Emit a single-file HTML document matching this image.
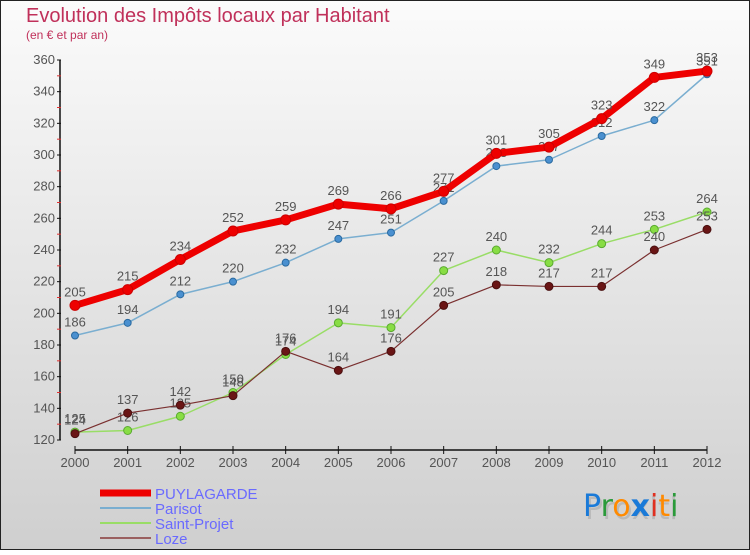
<!DOCTYPE html>
<html><head><meta charset="utf-8"><style>
html,body{margin:0;padding:0}
body{width:750px;height:550px;overflow:hidden;font-family:"Liberation Sans",sans-serif}
</style></head><body>
<svg id="chart" width="750" height="550" xmlns="http://www.w3.org/2000/svg">
<defs><linearGradient id="bg" x1="0" y1="0" x2="0" y2="1"><stop offset="0" stop-color="#fbfbfb"/><stop offset="1" stop-color="#cfcfcf"/></linearGradient></defs>
<rect x="0.5" y="0.5" width="749" height="549" fill="url(#bg)" stroke="#222"/>
<text x="26" y="22" font-size="20" fill="#c0305a" font-weight="300">Evolution des Impôts locaux par Habitant</text>
<text x="26" y="39" font-size="12" fill="#c0305a">(en € et par an)</text>
<g id="axes"></g><g id="series"></g>
<g>
<line x1="100" y1="493" x2="151" y2="493" stroke="#ee0000" stroke-width="7"/>
<text x="155" y="499" font-size="15" fill="#6a6aff">PUYLAGARDE</text>
<line x1="100" y1="508" x2="151" y2="508" stroke="#7aaed0" stroke-width="2"/>
<text x="155" y="514" font-size="15" fill="#6a6aff">Parisot</text>
<line x1="100" y1="523" x2="151" y2="523" stroke="#99dd66" stroke-width="2"/>
<text x="155" y="529" font-size="15" fill="#6a6aff">Saint-Projet</text>
<line x1="100" y1="538" x2="151" y2="538" stroke="#9a6060" stroke-width="2"/>
<text x="155" y="544" font-size="15" fill="#6a6aff">Loze</text>
</g>
<g font-size="30" font-family="'DejaVu Sans',sans-serif">
<text x="585" y="519" fill="#aaa" opacity="0.6"><tspan>Proxiti</tspan></text>
<text x="583" y="516"><tspan fill="#1a7ad8">P</tspan><tspan fill="#2a9a3a">r</tspan><tspan fill="#ff8a00">o</tspan><tspan fill="#1a7ad8" font-weight="bold">x</tspan><tspan fill="#e03020">i</tspan><tspan fill="#ff8a00">t</tspan><tspan fill="#2a9a3a">i</tspan></text>
</g>
</svg>
<script>
const years=[2000,2001,2002,2003,2004,2005,2006,2007,2008,2009,2010,2011,2012];
const yTicks=[120,140,160,180,200,220,240,260,280,300,320,340,360];
const puylagarde=[205,215,234,252,259,269,266,277,301,305,323,349,353];
const parisot=[186,194,212,220,232,247,251,271,293,297,312,322,351];
const saintProjet=[125,126,135,150,174,194,191,227,240,232,244,253,264];
const loze=[124,137,142,148,176,164,176,205,218,217,217,240,253];
const NS="http://www.w3.org/2000/svg";
function X(i){return 75+i*(707-75)/(years.length-1);}
function Y(v){return 440-(v-120)*(380/240);}
function mk(tag,attrs,parent){const e=document.createElementNS(NS,tag);for(const k in attrs)e.setAttribute(k,attrs[k]);parent.appendChild(e);return e;}
const ax=document.getElementById('axes');
const yl=mk('line',{x1:60,y1:Y(360),x2:60,y2:Y(120),stroke:'#111','stroke-width':1.5},ax);


yTicks.forEach((t,i)=>{
 mk('line',{x1:57,y1:Y(t),x2:61,y2:Y(t),stroke:'#111'},ax);
 if(i<yTicks.length-1)mk('line',{x1:57,y1:Y(t+10),x2:61,y2:Y(t+10),stroke:'#e03030'},ax);
 const tx=mk('text',{x:55,y:Y(t)+4,'font-size':13,fill:'#555','text-anchor':'end'},ax);tx.textContent=t;
 
 
});
const xl=mk('line',{x1:X(0),y1:450,x2:X(years.length-1),y2:450,stroke:'#111','stroke-width':1.5},ax);


years.forEach((yr,i)=>{
 mk('line',{x1:X(i),y1:446,x2:X(i),y2:454,stroke:'#111'},ax);
 const tx=mk('text',{x:X(i),y:467,'font-size':13,fill:'#555','text-anchor':'middle'},ax);tx.textContent=yr;
 
 
});
const sg=document.getElementById('series');
function drawSeries(vals,name,color,w,r,dot,fill){
 const g=mk('g',{},sg);
 
 
 const pl=mk('polyline',{points:vals.map((v,i)=>X(i)+','+Y(v)).join(' '),fill:'none',stroke:color,'stroke-width':w,'stroke-linejoin':'round','stroke-linecap':'round'},g);
 
 
 vals.forEach((v,i)=>{
  const c=mk('circle',{cx:X(i),cy:Y(v),r:r,fill:fill,stroke:dot,'stroke-width':1},g);
  
  
  const t=mk('text',{x:X(i),y:Y(v)-9,'font-size':13,fill:'#555','text-anchor':'middle'},g);t.textContent=v;
  
  
 });
}
drawSeries(saintProjet,'saint-projet','#99dd66',1.5,4,'#5aaa30','#88dd44');
drawSeries(loze,'loze','#7a3030',1.2,4,'#4a1010','#6a1515');
drawSeries(parisot,'parisot','#7aaed0',1.5,3.5,'#2a6aa0','#4a90d0');
drawSeries(puylagarde,'puylagarde','#ee0000',7,5,'#cc0000','#ee0000');
</script>
</body></html>
